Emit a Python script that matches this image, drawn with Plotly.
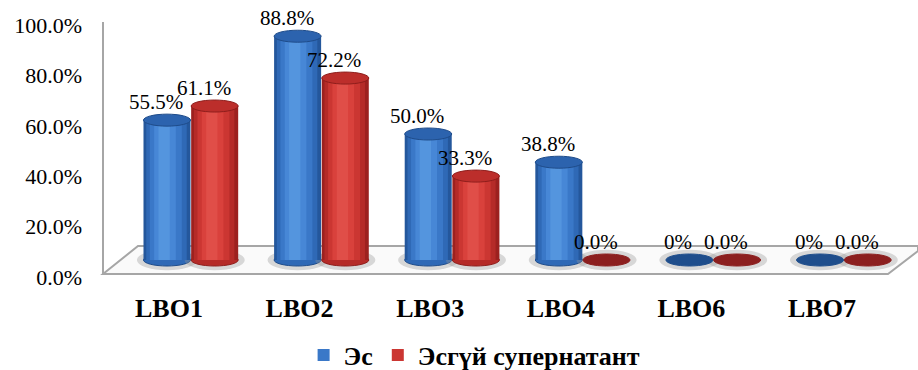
import plotly.graph_objects as go

categories = ["LBO1", "LBO2", "LBO3", "LBO4", "LBO6", "LBO7"]
es_values = [0.555, 0.888, 0.500, 0.388, 0.0, 0.0]
es_labels = ["55.5%", "88.8%", "50.0%", "38.8%", "0%", "0%"]
sup_values = [0.611, 0.722, 0.333, 0.0, 0.0, 0.0]
sup_labels = ["61.1%", "72.2%", "33.3%", "0.0%", "0.0%", "0.0%"]
series_names = ["Эс", "Эсгүй супернатант"]
y_ticks = [0, 0.2, 0.4, 0.6, 0.8, 1.0]
y_tick_labels = ["0.0%", "20.0%", "40.0%", "60.0%", "80.0%", "100.0%"]

FONT = "Liberation Serif"
W, H = 918, 370
ML, MR, MT, MB = 103, 0, 0, 80
PW, PH = W - ML - MR, H - MT - MB
UNIT_PX = 252.0  # pixels per 100%

bar_w = 0.36
offsets = [-0.195, 0.17]
# cylinder shading layers: (relative width, colour) from outer/dark to inner/light
shade_layers = [
    [(1.00, "#24579C"), (0.86, "#2F69B6"), (0.68, "#3A78C8"), (0.46, "#4787D6"), (0.24, "#5495DE")],
    [(1.00, "#9C211F"), (0.86, "#B52B28"), (0.68, "#CB3632"), (0.46, "#D9413C"), (0.24, "#E04E48")],
]
edge_colors = ["#1F4C8A", "#8E1D1B"]
cap_colors = ["#2C63AE", "#BC2E2B"]
zero_colors = ["#1F4E8C", "#8C1F1F"]

fig = go.Figure()
series = [(es_values, es_labels), (sup_values, sup_labels)]
for k, (vals, labs) in enumerate(series):
    for j, (rel, col) in enumerate(shade_layers[k]):
        w = bar_w * rel
        fig.add_trace(go.Bar(
            x=categories, y=vals, name=series_names[k],
            width=w, offset=offsets[k] + (bar_w - w) * 0.42,
            marker=dict(color=col, line=dict(width=0)),
            showlegend=(j == 2), legendrank=k, hoverinfo="skip",
        ))


def px2paper(px, py):
    return (px - ML) / PW, (MT + PH - py) / PH


shapes = []
# floor
pts = [(103, 274), (138, 246), (918, 246), (918, 251), (888, 274)]
path = "M " + " L ".join(f"{px2paper(a, b)[0]:.5f},{px2paper(a, b)[1]:.5f}" for a, b in pts) + " Z"
shapes.append(dict(type="path", xref="paper", yref="paper", path=path,
                   fillcolor="#FAFAFA", line=dict(color="#A6A6A6", width=2), layer="below"))
# back vertical wall edge
x0p, y0p = px2paper(103, 274)
x1p, y1p = px2paper(103, 22)
shapes.append(dict(type="line", xref="paper", yref="paper", x0=x0p, y0=y0p, x1=x1p, y1=y1p,
                   line=dict(color="#A6A6A6", width=2), layer="below"))

cap_h = 6 / UNIT_PX
annotations = []
for k, (vals, labs) in enumerate(series):
    for i, v in enumerate(vals):
        cx = i + offsets[k] + bar_w / 2
        # shadow on floor
        shapes.append(dict(type="circle", xref="x", yref="y",
                           x0=cx - bar_w * 0.64, x1=cx + bar_w * 0.64,
                           y0=-cap_h * 1.7, y1=cap_h * 1.7,
                           fillcolor="rgba(150,150,150,0.35)", line=dict(width=0), layer="below"))
        if v > 0:
            shapes.append(dict(type="circle", xref="x", yref="y",
                               x0=cx - bar_w / 2, x1=cx + bar_w / 2, y0=-cap_h, y1=cap_h,
                               fillcolor=shade_layers[k][1][1], line=dict(color=edge_colors[k], width=1),
                               layer="below"))
            shapes.append(dict(type="circle", xref="x", yref="y",
                               x0=cx - bar_w / 2, x1=cx + bar_w / 2, y0=v - cap_h, y1=v + cap_h,
                               fillcolor=cap_colors[k], line=dict(color=edge_colors[k], width=1),
                               layer="above"))
        else:
            shapes.append(dict(type="circle", xref="x", yref="y",
                               x0=cx - bar_w / 2, x1=cx + bar_w / 2, y0=-cap_h, y1=cap_h,
                               fillcolor=zero_colors[k], line=dict(color=zero_colors[k], width=1),
                               layer="above"))
        annotations.append(dict(x=cx, y=v, xref="x", yref="y", text=labs[i],
                                showarrow=False, xshift=-11, yshift=18,
                                yanchor="middle", xanchor="center",
                                font=dict(family=FONT, size=21, color="#000000")))

fig.update_layout(
    width=W, height=H,
    margin=dict(l=ML, r=MR, t=MT, b=MB, pad=0),
    paper_bgcolor="white", plot_bgcolor="rgba(0,0,0,0)",
    font=dict(family=FONT, color="#000000"),
    barmode="overlay",
    showlegend=True,
    legend=dict(orientation="h", xref="container", yref="container",
                x=0.517, xanchor="center", y=1 - 355 / H, yanchor="middle",
                font=dict(family=FONT, size=26, color="#000000", weight="bold"),
                itemwidth=30, tracegroupgap=0, traceorder="normal"),
    shapes=shapes,
    annotations=annotations,
    xaxis=dict(range=[-0.505, 5.735], showgrid=False, zeroline=False, showline=False,
               ticks="", tickfont=dict(family=FONT, size=26, color="#000000", weight="bold"),
               ticklabelstandoff=0, fixedrange=True),
    yaxis=dict(range=[-(PH - 260) / UNIT_PX, 260 / UNIT_PX], showgrid=False, zeroline=False,
               showline=False, ticks="", tickvals=y_ticks, ticktext=y_tick_labels,
               tickfont=dict(family=FONT, size=22, color="#000000"),
               ticklabelshift=17, ticklabelstandoff=20, fixedrange=True),
)

fig.write_html("out.html")
